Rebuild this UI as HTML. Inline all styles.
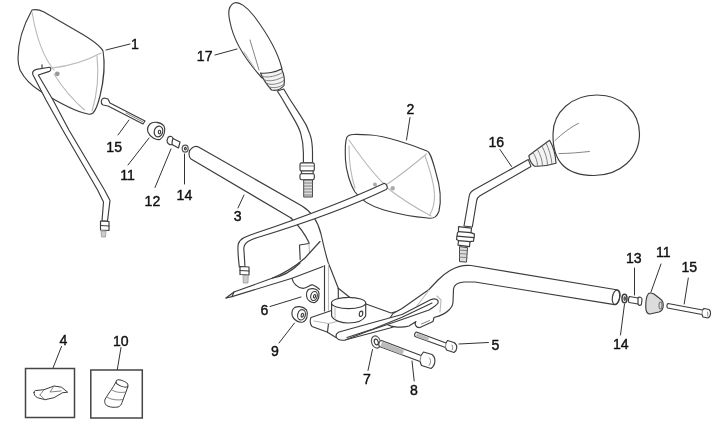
<!DOCTYPE html>
<html>
<head>
<meta charset="utf-8">
<style>
html,body{margin:0;padding:0;background:#fff;}
body{width:720px;height:439px;overflow:hidden;font-family:"Liberation Sans",sans-serif;}
svg{display:block;position:absolute;left:0;top:0;filter:blur(0.45px);}
text{font-family:"Liberation Sans",sans-serif;font-size:15px;fill:#111;stroke:#111;stroke-width:0.42;}
.k{fill:none;stroke:#3c3c3c;stroke-width:1.15;stroke-linecap:round;stroke-linejoin:round;}
.kw{fill:#fff;stroke:#3c3c3c;stroke-width:1.15;stroke-linecap:round;stroke-linejoin:round;}
.kg{fill:#dcdcdc;stroke:#3c3c3c;stroke-width:1.15;stroke-linecap:round;stroke-linejoin:round;}
.g{fill:none;stroke:#b8b8b8;stroke-width:1.1;stroke-linecap:round;stroke-linejoin:round;}
.d{fill:none;stroke:#777;stroke-width:0.9;stroke-linecap:round;stroke-linejoin:round;}
.l{fill:none;stroke:#333;stroke-width:1;stroke-linecap:round;}
.t{fill:none;stroke:#3c3c3c;stroke-linecap:round;stroke-linejoin:round;stroke-width:6.3;}
.ti{fill:none;stroke:#fff;stroke-linecap:round;stroke-linejoin:round;stroke-width:4;}
</style>
</head>
<body>
<svg width="720" height="439" viewBox="0 0 720 439">
<rect width="720" height="439" fill="#fff"/>
<!-- ===== MIRROR 1 ===== -->
<g id="m1">
<path class="kw" d="M32,10 C36,9 40,10 44,12 L82,34 C92,40 100,45 103,51 C105,62 104,80 100,96 C98,104 96,110 93,113 C91,114.500 89.500,114.500 88,114 C76,112 56,101 40.500,91.300 C32,86 24,78 20,70 C18.500,66 18,62 18,58 C18,44 23,26 32,10 Z"/>
<path class="g" d="M32,12 C36,36 44,58 54,70"/>
<path class="g" d="M52,68 C70,66 88,60 101,53"/>
<path class="g" d="M54,74 C62,87 73,100 84.500,110"/>
<path class="g" d="M97,56 C99,75 97,95 92,111"/>
<circle cx="57.3" cy="73.8" r="2.4" fill="#999"/>
</g>
<!-- stem 1 -->
<path class="kw" d="M102,221 L103.500,202 L97.600,190 L62.700,130 L46,100 L32.800,74.500 C32,72 33,70.500 36.400,69.400 L49.400,67.300 C51.200,67.300 51.400,70.600 49.400,71.400 L38.300,75 L53,100 L68.900,130 L104.500,190 L110,200.500 L107.500,221 Z"/>
<path class="k" d="M42,64.800 L42,68.200"/>
<path class="kw" d="M100.500,221 L109,221.500 L109,230.500 L100.500,230 Z"/>
<path class="k" d="M100.500,225.500 L109,226"/>
<path d="M101,231 L106,231 L105.500,237 L101.500,237 Z" fill="#ccc" stroke="#999" stroke-width="0.8"/>

<!-- bolt 15 L -->
<path class="kw" d="M104,98 C101,99 100,103 103,105 L108,106 L143,124 L145,121 L110,103 L108,99 Z"/>
<path class="d" d="M126,113 L143,122"/>
<!-- 11 L -->
<g>
<path class="kw" d="M150,124 C153,121 161,122 164,126 C166,130 164,137 160,139.500 C156,140.500 150,137 148,132 C147,129 148,126 150,124 Z"/>
<ellipse class="k" cx="158.500" cy="131.500" rx="4.200" ry="5.500" transform="rotate(15 158.500 131.500)"/>
<ellipse class="k" cx="159.500" cy="132" rx="1.200" ry="1.800"/>
</g>
<!-- 12 -->
<path class="kw" d="M168,137.500 C170,135.500 173,136.500 173,138.500 L180,142 L178.500,148 L172,144.500 C170,145.500 167,143.500 167,140.500 Z"/>
<path class="k" d="M173,138.500 C172,140.500 172,142.500 172,144.500"/>
<!-- 14 L -->
<ellipse class="kw" cx="185.200" cy="148.600" rx="3" ry="3.600" style="stroke-width:1.25;stroke:#555"/>
<ellipse class="k" cx="185.400" cy="148.600" rx="0.900" ry="1.300"/>

<!-- ===== HANDLEBAR LEFT (3) ===== -->
<path d="M291,218 L191,159 C188,156 188.500,150 192,148 C194,146.500 196.500,146 198.500,147 L302,206 C312,212 318,222 321,234 C323,243 325,252 328,262 L338.300,288.300 L349.300,297 L331,305 L324.500,300 L324.500,266 L309,243 C306,236 300,227 291,218 Z" fill="#fff" stroke="none"/>
<path class="k" d="M291,218 L191,159 C188,156 188.500,150 192,148 C194,146.500 196.500,146 198.500,147 L302,206 C312,212 318,222 321,234 C323,243 325,252 328,262 L338.300,288.300 L349.300,297"/>
<path class="k" d="M291,218 C300,227 306,236 309.200,243"/>
<!-- bracket tab + brace -->
<path class="k" d="M300.200,259.500 L299.500,245 L309,243.500"/>
<path class="g" d="M309,244 L309.500,253"/>
<path class="k" d="M226,298 L234,292 L272,278.300 C285,273 297,265 305,258 L320,241.500"/>
<path class="k" d="M272,278.300 C282,276.500 292,271 300,263"/>
<path class="k" d="M226,298 L232,296.600 L292,278.300 L323,266.500"/>
<path class="k" d="M232,296.600 L234,292"/>
<path class="k" d="M292,278.300 C293,283 297,288 303,288.400 C308,288 310,284 313,285 C316,286 318,288 319.400,289.300"/>
<!-- vertical plate -->
<path class="k" d="M324.500,265.500 L324.500,311"/>
<path class="g" d="M328.500,264 L328.500,310"/>
<path class="k" d="M338.300,288.300 L338.300,303"/>
<!-- ===== MIRROR 17 ===== -->
<g id="m17">
<path class="kw" d="M234,3 C239,1 247,7 254,16 C266,32 278,52 282,69 L262,78 C242,56 233,38 230,22 C228,14 228,6 234,3 Z"/>
<path class="d" d="M250,40 L259,70"/>
<path class="g" d="M244,52 L254.500,68"/>
<path class="kg" style="fill:#f3f3f3" d="M260.500,73 C266,74 276,72 281.500,69 C284,74 285,80 284,85.500 C281,89 276,91 271.500,90 C267,85 263,79 260.500,73 Z"/>
<path class="d" d="M262.500,76.500 C268,78 277,76 282.500,72.500 M264.500,80 C270,82 278,80 283.500,76.500 M267,83.500 C272,85.500 279,84 284,80.500 M269.500,87 C274,88.500 280,87.500 284,84"/>
<path class="kw" d="M277.300,91 L281.900,98.200 L292.400,116.400 C297,124 300,130 301,134.700 C302.500,140 303.400,146 303.400,152.900 L303.400,163 L312.500,163 L312.500,152.900 C312.500,146 312,140 310.100,134.700 C308,128 305,122 301,116.400 L289.200,98.200 L283.700,89 Z"/>
<rect class="kw" x="300" y="162.800" width="14.300" height="8.200" rx="1.600"/>
<rect class="kw" x="301.500" y="171" width="11.600" height="2.700"/>
<rect class="kw" x="300" y="173.700" width="14.300" height="6" rx="1.600"/>
<path class="d" d="M300.500,166 L314,166"/>
<path d="M303.700,180 L312.500,180 L312.500,197 L303.700,197 Z" fill="#ddd" stroke="#444" stroke-width="1"/>
<path class="d" d="M303.700,183 L312.500,183 M303.700,186 L312.500,186 M303.700,189 L312.500,189 M303.700,192 L312.500,192 M303.700,195 L312.500,195"/>
</g>

<!-- ===== MIRROR 2 ===== -->
<g id="m2">
<path class="kw" d="M347,137 C349,134 354,134 371,135 C385,136 410,144 427,151 C430,152 432,158 436,173 C440,186 442,198 439,211 C437,217 434,219 428,218 C415,217 398,214 384,210 C370,206 360,199 355,192 C350,184 346,170 345.500,160 C345,150 345,141 347,137 Z"/>
<path class="g" d="M349,140 C360,156 372,172 384,184"/>
<path class="g" d="M349,146 C349,162 351,176 355,188"/>
<path class="g" d="M426.500,154 C412,166 398,177 386,185"/>
<path class="g" d="M386,187 C400,198 416,208 431,216"/>
<path class="g" d="M425,156 C430,170 435,186 434.500,198 C434,206 432,211 430,214.500"/>
<circle cx="375" cy="184.500" r="2" fill="#aaa"/>
<circle cx="392.700" cy="188.300" r="2.200" fill="#aaa"/>
</g>
<!-- stem 2 -->
<path class="kw" d="M383.800,183.400 Q334,206.500 255.200,233.300 C246,236.500 240,238.500 238.300,244 C237.500,247 238,255 239.300,267 L245,267 L243.800,248 C244.500,242 250,240 256.800,237.700 Q336,213.500 386.200,189.400 C388.500,188 386.500,183 383.800,183.400 Z"/>
<path class="kw" d="M240,266.500 L249,267 L249,275 L240,274.500 Z"/>
<path class="k" d="M240,270.500 L249,271"/>
<path d="M243,275.500 L248.300,275.500 L248,283 L243.300,283 Z" fill="#ccc" stroke="#999" stroke-width="0.8"/>

<!-- ===== MIRROR 16 ===== -->
<g id="m16">
<path class="kw" d="M553,134 C553,112 572,95 597,95 C622,95 639.500,112 639.500,134 C639.500,158 620,175.500 594,175.500 C566,175.500 552.500,162 553,134 Z"/>
<path class="d" d="M555,140.500 C563,133 571,127 578.600,123.300"/>
<path class="d" d="M559,153.600 C569,153.500 580,152.500 589.400,151.500"/>
<path class="kg" style="fill:#f3f3f3" d="M528.800,155.600 C535,151 543,145 549.600,140.300 C553,146 555.500,155 556,163.300 C549,165.500 540,166.500 534.600,166.200 C531.500,164 529.500,160 528.800,155.600 Z"/>
<path class="d" d="M533,152.500 C536,157 537.500,161.500 537.500,166 M537.500,149.500 C540.500,155 542.500,160.500 542.500,165.800 M542,146 C545,152 547.500,159 547.500,165 M546,143 C549,149 551.500,157 552,164.300"/>
<path class="kw" d="M528.300,159.600 L474,189.800 C471,191.500 469.800,193 469.200,196 L464,226 L472.300,227 L476.600,201 C477,198.500 478,197 480,195.800 L531,166.400 Z"/>
<g transform="translate(0,1.6)">
<path class="kw" d="M458.500,225 L471.500,226.500 L471,231 L474.500,232.500 L473.500,239.500 L470,240 L469.500,245 L458,243.500 L458.500,239 L456.500,238 L457.500,231 L458.500,230 Z"/>
<path class="k" d="M458.500,230 L471,231 M457,234.500 L474,236 M458.500,239 L470,240"/>
<path d="M459.500,245 L467.500,246 L466.500,260.500 L459.500,260 Z" fill="#ddd" stroke="#444" stroke-width="1"/>
<path class="d" d="M459.500,248.500 L467,249 M459.500,252 L467,252.500 M459.500,255.500 L467,256"/>
</g>
</g>
<!-- ===== BASE PLATE ===== -->
<path class="kw" d="M311,317.500 L331.500,310.500 L366,304 L391,313 L402,310 L420,318 L390,328 L345,340 L336,337.500 L327,332 L312,326.500 C310,324 309.500,320 311,317.500 Z"/>
<path class="k" d="M328.500,323.500 L327.500,332"/>
<path class="g" d="M314,321 L328.500,323.500 L337,321.500"/>
<!-- ===== HANDLEBAR RIGHT ===== -->
<path class="kw" d="M618,290 L471,265.500 C462,264.500 456,267 450,270.500 C444,274 441,277 438,280 L429,289.500 L402,308.500 L393,313.500 L386,324 C392,327.500 402,328 409,326 L416,321.500 C414,324 416,328 420,327.500 L433,321.500 L434,317.500 C440,316 446,313 449,310 C452,307 453,305 453,302 L453.500,289 C454,285 458,282.500 464,282 L475,282 L614.500,304.600 C619.500,304 622,292 618,290 Z"/>
<ellipse class="k" cx="616" cy="297.400" rx="3.600" ry="7.300" transform="rotate(9 616 297.400)"/>
<path class="g" d="M429,290 L417,306 M437,296 L441,300 L440,312"/>
<path class="d" d="M421.500,324 L429.500,320.500"/>
<!-- cylinder -->
<path class="kw" d="M331.600,303 L331.600,316 C334,321 342,323 348.500,323 C356,323 363,321 365.700,316 L365.700,303 Z"/>
<ellipse class="kw" cx="348.600" cy="303" rx="17.100" ry="5.600"/>
<ellipse class="k" cx="361" cy="313.800" rx="1.700" ry="2.700" transform="rotate(10 361 313.800)"/>
<path class="g" d="M335,308 L335,318"/>
<!-- strap -->
<path class="kw" d="M339,332 L402,314.500 L431,299.500 C435,298 439,299 438,303 C437,305 434,307 429,310 L402,319.500 L367,331.500 L345,340 C340,341 336,339 336,336 C336,334 337,333 339,332 Z"/>
<path class="k" d="M347,337.500 L373,329 L402,317.200 L432,303"/>

<!-- 6, 9 -->
<g>
<path class="kw" d="M308,290 C310,288 316,288 318.500,291.500 C320,295 318.500,301 315,302.500 C311,303 307,300 306.500,296 C306.300,293 307,291 308,290 Z"/>
<ellipse class="k" cx="314" cy="296" rx="3.200" ry="4.600" transform="rotate(15 314 296)"/>
<ellipse class="k" cx="314.500" cy="296.300" rx="1" ry="1.800" transform="rotate(15 314.500 296.300)"/>
</g>
<g>
<path class="kw" d="M293.500,308.500 C296,305.500 303,306 306.500,310 C308.500,314 307,320.500 303,322 C299,323 293.500,320 292.300,316 C291.500,313 292,310.500 293.500,308.500 Z"/>
<ellipse class="k" cx="301.500" cy="314.800" rx="3.800" ry="5.200" transform="rotate(15 301.500 314.800)"/>
<ellipse class="k" cx="302.300" cy="315.200" rx="1.100" ry="2" transform="rotate(15 302.300 315.200)"/>
</g>

<!-- 7 washer -->
<ellipse class="kw" cx="376" cy="342" rx="4.400" ry="6.200" transform="rotate(-18 376 342)" style="stroke-width:1.15;stroke:#555"/>
<ellipse class="k" cx="376.300" cy="342" rx="1.900" ry="3" transform="rotate(-18 376.300 342)"/>
<!-- 8 bolt -->
<path class="kw" d="M381.500,340.500 L421,355.500 L423.500,352 L432,354.500 C436,357.500 436,365 431,368.500 L421.500,365.500 L420,361.500 L379.500,346.500 C378,344 379,341 381.500,340.500 Z"/>
<path d="M382,341.500 L404,350 L402.500,355 L380.500,346.500 Z" fill="#bbb"/>
<path class="d" d="M421,355.500 L420,361.500 M429.500,358 C431,360 431,363.500 429,365.500"/>
<!-- 5 bolt -->
<path class="kw" d="M416.500,332 L446,343 L447.500,340.500 L454,342.500 C458,345 457.500,350 454,352.500 L446.500,350 L445.500,347.500 L415,336.500 C414,334.500 415,332.500 416.500,332 Z"/>
<path d="M417,333 L429,337.500 L428,341 L415.800,336.500 Z" fill="#bbb"/>
<path class="d" d="M446,343 L445.500,347.500 M452,345 C453,346.500 453,348.500 452,350"/>

<!-- right small parts -->
<ellipse class="kw" cx="624.500" cy="298.500" rx="2.500" ry="4.300" style="stroke-width:1.500"/>
<ellipse class="k" cx="624.700" cy="298.500" rx="0.700" ry="1.800"/>
<path class="kw" d="M629.500,296.500 L638,298 C639,296.500 642,297 642,299.500 L641.500,304 C641,306 638.500,305.500 638,304 L629,302.500 C628,301 628.500,297.500 629.500,296.500 Z"/>
<path class="k" d="M638,298 L638,304"/>
<path class="kg" d="M648.500,293.500 C650,292.500 652,293 654,294 L661,299.500 C663,301 663.500,304 663,307.500 C662.500,310 661,311.500 659,312 L650,314 C647.500,314 646,312 645.800,308 C645.600,302 646.500,296 648.500,293.500 Z"/>
<ellipse class="k" cx="660.500" cy="305.500" rx="1.500" ry="3.500" style="stroke:#777"/>
<path class="kw" d="M668,303.500 L702.500,310 L704,308.500 L709,309.500 C711.500,311.500 711,316.500 708,318 L703,317 L702,314.500 L667.500,308 C666.500,306.500 667,304 668,303.500 Z"/>
<path class="d" d="M702.500,310 L702,314.500 M707.500,312 C708,313.500 708,315 707.500,316"/>

<!-- ===== BOXES ===== -->
<rect x="25.500" y="368.500" width="49" height="49" fill="none" stroke="#444" stroke-width="1.500"/>
<rect x="90.800" y="370" width="51.500" height="48" fill="none" stroke="#444" stroke-width="1.500"/>
<path class="kw" style="stroke-width:1" d="M34,392.500 C34,391 35,390.500 36,390.500 L44,389.700 L54,386 L61.500,387.200 L67.700,392.200 L62.600,392.700 L54,397.700 L45,399.700 L37.600,397.700 C35,396.500 34,394.500 34,392.500 Z"/>
<path class="d" d="M44,389.700 L40,395 M54,386 L50,392 L61,391 M40,395 L45,399.700"/>
<path class="kw" style="stroke-width:1" d="M116,382 C113,388 108,394 105.200,399 C104,402 105,405 108,406.200 C111,407.500 115,407.500 118,407 C120.500,406 121.500,404.500 122,402.500 L128,386.500 Z"/>
<ellipse class="kw" style="stroke-width:1" cx="122" cy="383.500" rx="6.300" ry="2.800" transform="rotate(22 122 383.500)"/>
<path class="d" d="M112,390 C116,392.500 121,393 125.500,392 M107.500,397.500 C112,400 118,400.500 123,399.500"/>
<!-- ===== LEADER LINES ===== -->
<path class="l" d="M106,50 L130,44"/>
<path class="l" d="M118,135 L129,120"/>
<path class="l" d="M128,165 L149,138"/>
<path class="l" d="M155,187.500 L171,149"/>
<path class="l" d="M184.500,184 L184.500,154"/>
<path class="l" d="M215,55 L237,49"/>
<path class="l" d="M244,195 L238,208"/>
<path class="l" d="M410,117.500 L406.500,140"/>
<path class="l" d="M500,149.500 L511.500,166.500"/>
<path class="l" d="M634.500,268 L634.500,295"/>
<path class="l" d="M661,264 L651,292"/>
<path class="l" d="M688.300,278 L684.200,304"/>
<path class="l" d="M624.500,304 L620.500,335"/>
<path class="l" d="M459,344 L488.500,342.500"/>
<path class="l" d="M270,306.500 L301,297"/>
<path class="l" d="M279,343 L294.500,323"/>
<path class="l" d="M372.500,349.500 L368,370.500"/>
<path class="l" d="M412,361 L414.200,381"/>
<path class="l" d="M61.500,346.500 L53,368"/>
<path class="l" d="M121,347.500 L117.300,369.500"/>

<!-- ===== LABELS ===== -->
<text transform="translate(131.0 49.0) scale(0.94 1.03)">1</text>
<text transform="translate(106.3 152.0) scale(0.94 1.03)">15</text>
<text transform="translate(120.2 179.5) scale(0.94 1.03)">11</text>
<text transform="translate(144.6 206.2) scale(0.94 1.03)">12</text>
<text transform="translate(176.6 199.6) scale(0.94 1.03)">14</text>
<text transform="translate(196.8 60.5) scale(0.94 1.03)">17</text>
<text transform="translate(233.7 220.8) scale(0.94 1.03)">3</text>
<text transform="translate(406.5 114.0) scale(0.94 1.03)">2</text>
<text transform="translate(488.5 146.5) scale(0.94 1.03)">16</text>
<text transform="translate(626.0 262.7) scale(0.94 1.03)">13</text>
<text transform="translate(656.0 256.5) scale(0.94 1.03)">11</text>
<text transform="translate(681.5 272.4) scale(0.94 1.03)">15</text>
<text transform="translate(613.0 348.5) scale(0.94 1.03)">14</text>
<text transform="translate(491.5 349.6) scale(0.94 1.03)">5</text>
<text transform="translate(260.5 315.0) scale(0.94 1.03)">6</text>
<text transform="translate(271.0 355.8) scale(0.94 1.03)">9</text>
<text transform="translate(363.0 383.8) scale(0.94 1.03)">7</text>
<text transform="translate(410.0 395.0) scale(0.94 1.03)">8</text>
<text transform="translate(59.5 345.3) scale(0.94 1.03)">4</text>
<text transform="translate(113.0 345.5) scale(0.94 1.03)">10</text>
</svg>
</body>
</html>
